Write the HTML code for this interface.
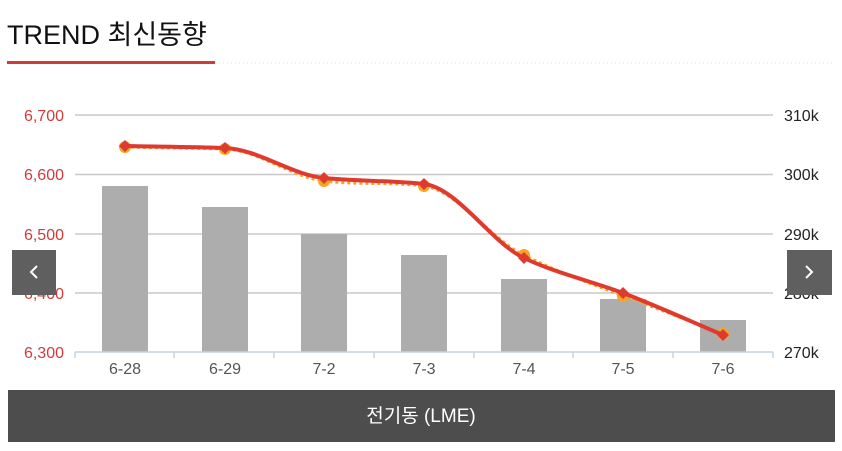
<!DOCTYPE html>
<html><head><meta charset="utf-8"><style>
body{margin:0;background:#fff;width:842px;height:451px;overflow:hidden;font-family:"Liberation Sans","Noto Sans CJK KR",sans-serif;}
</style></head><body>
<svg width="842" height="451" viewBox="0 0 842 451" xmlns="http://www.w3.org/2000/svg" style="position:absolute;left:0;top:0">
<text x="7" y="44" font-size="27" fill="#111" font-family="Liberation Sans, Noto Sans CJK KR, sans-serif">TREND 최신동향</text>
<line x1="215" y1="63" x2="835" y2="63" stroke="#ddd" stroke-dasharray="1,3"/>
<rect x="7" y="61" width="208" height="3" fill="#d23a3a"/>
<g stroke="#c8c8c8" stroke-width="1.5">
<line x1="75" y1="115" x2="773" y2="115"/>
<line x1="75" y1="174.5" x2="773" y2="174.5"/>
<line x1="75" y1="234" x2="773" y2="234"/>
<line x1="75" y1="293" x2="773" y2="293"/>
</g>
<g fill="#adadad">
<rect x="102" y="186" width="46" height="166"/>
<rect x="202" y="207" width="46" height="145"/>
<rect x="301" y="234" width="46" height="118"/>
<rect x="401" y="255" width="46" height="97"/>
<rect x="501" y="279" width="46" height="73"/>
<rect x="600" y="299" width="46" height="53"/>
<rect x="700" y="320" width="46" height="32"/>
</g>
<line x1="75" y1="352" x2="773" y2="352" stroke="#c5d3df" stroke-width="1.5"/>
<g stroke="#c5d3df" stroke-width="1.5">
<line x1="75" y1="352" x2="75" y2="358"/><line x1="174" y1="352" x2="174" y2="358"/><line x1="274" y1="352" x2="274" y2="358"/><line x1="374" y1="352" x2="374" y2="358"/><line x1="474" y1="352" x2="474" y2="358"/><line x1="573" y1="352" x2="573" y2="358"/><line x1="673" y1="352" x2="673" y2="358"/><line x1="773" y1="352" x2="773" y2="358"/>
</g>
<g font-size="16" fill="#555" text-anchor="middle">
<text x="125" y="374">6-28</text><text x="225" y="374">6-29</text><text x="324" y="374">7-2</text><text x="424" y="374">7-3</text><text x="524" y="374">7-4</text><text x="623" y="374">7-5</text><text x="723" y="374">7-6</text>
</g>
<g font-size="16" fill="#d23a3a" text-anchor="end">
<text x="64" y="121">6,700</text><text x="64" y="180">6,600</text><text x="64" y="240">6,500</text><text x="64" y="299">6,400</text><text x="64" y="358">6,300</text>
</g>
<g font-size="16" fill="#222">
<text x="784" y="121">310k</text><text x="784" y="180">300k</text><text x="784" y="240">290k</text><text x="784" y="299">280k</text><text x="784" y="358">270k</text>
</g>
<path d="M125,147 C158,148 192,148 225,149 C258,150 291,177 324,181 C357,185 391,182 424,186 C457,190 491,240 524,255 C557,272 590,283 623,296 C656,308 690,321 723,334" fill="none" stroke="#f5a623" stroke-width="3" stroke-dasharray="3,3"/>
<g fill="#f5a623"><circle cx="125" cy="147" r="6"/><circle cx="225" cy="149" r="6"/><circle cx="324" cy="181" r="6"/><circle cx="424" cy="186" r="6"/><circle cx="524" cy="255" r="6"/><circle cx="623" cy="296" r="6"/><circle cx="723" cy="334" r="6"/></g>
<path d="M125,146 C158,146.7 192,146.8 225,148 C258,149.2 291,174.7 324,178 C357,181.3 391,180.4 424,184 C457,187.6 491,242.3 524,258 C557,273.7 590,280.5 623,293 C656,305.5 690,321.1 723,335" fill="none" stroke="#e03a2f" stroke-width="4"/>
<g fill="#e03a2f">
<path d="M125,140 l6,6 -6,6 -6,-6z"/><path d="M225,142 l6,6 -6,6 -6,-6z"/><path d="M324,172 l6,6 -6,6 -6,-6z"/><path d="M424,178 l6,6 -6,6 -6,-6z"/><path d="M524,252 l6,6 -6,6 -6,-6z"/><path d="M623,287 l6,6 -6,6 -6,-6z"/><path d="M723,329 l6,6 -6,6 -6,-6z"/>
</g>
<rect x="12" y="250" width="44" height="45" fill="#5f5f5f"/>
<path d="M37,266 l-6,6 6,6" fill="none" stroke="#fff" stroke-width="2"/>
<rect x="787" y="250" width="45" height="45" fill="#5f5f5f"/>
<path d="M806,266 l6,6 -6,6" fill="none" stroke="#fff" stroke-width="2"/>
<rect x="8" y="390" width="827" height="52" fill="#4d4d4d"/>
<text x="421" y="422" font-size="19" fill="#fff" text-anchor="middle">전기동 (LME)</text>
</svg>
</body></html>
